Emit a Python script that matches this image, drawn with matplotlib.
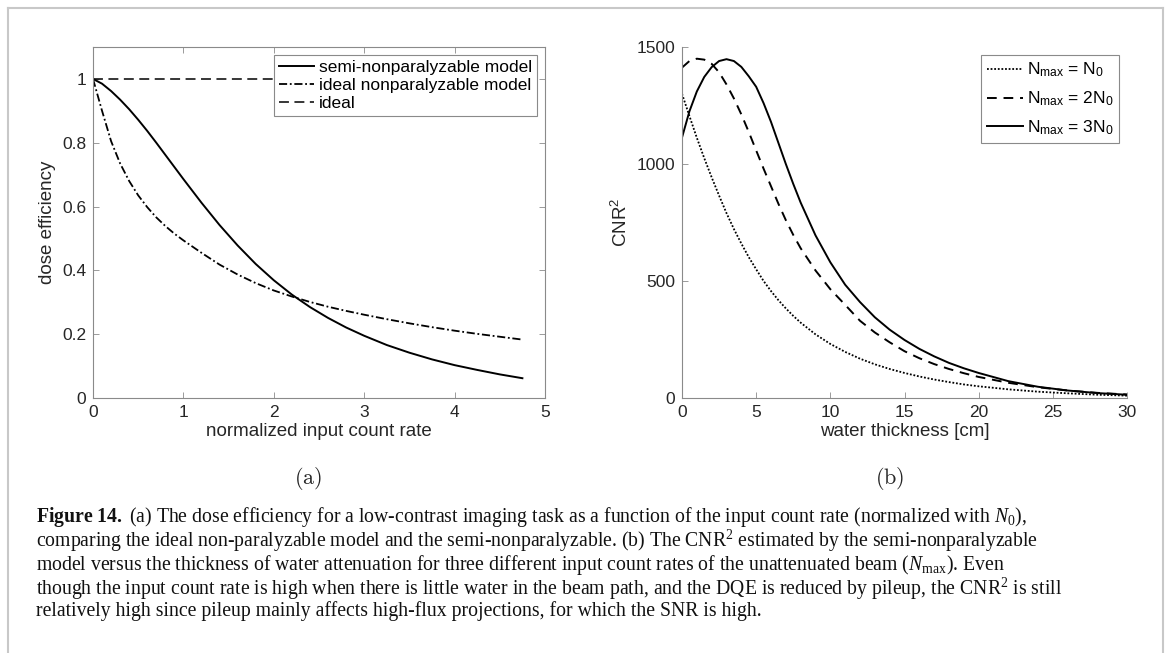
import numpy as np
import matplotlib
matplotlib.use('Agg')
import matplotlib.pyplot as plt
from matplotlib.lines import Line2D

# panel (a): dose efficiency vs normalized input count rate
rate = [0, 0.1, 0.2, 0.3, 0.4, 0.5, 0.6, 0.7, 0.8, 0.9, 1.0, 1.2, 1.4, 1.6,
        1.8, 2.0, 2.2, 2.4, 2.6, 2.8, 3.0, 3.25, 3.5, 3.75, 4.0, 4.25, 4.5, 4.75]
semi_np = [1.000, 0.985, 0.962, 0.935, 0.905, 0.872, 0.837, 0.800, 0.762, 0.724,
           0.686, 0.612, 0.542, 0.478, 0.420, 0.369, 0.324, 0.285, 0.251, 0.221,
           0.195, 0.166, 0.142, 0.121, 0.103, 0.088, 0.074, 0.062]
ideal_np = [1.000, 0.900, 0.805, 0.735, 0.680, 0.635, 0.598, 0.566, 0.539, 0.515,
            0.494, 0.455, 0.418, 0.387, 0.360, 0.337, 0.318, 0.301, 0.286, 0.273,
            0.261, 0.247, 0.234, 0.222, 0.211, 0.201, 0.192, 0.183]
ideal = [1.0] * len(rate)
labels_a = ['semi-nonparalyzable model', 'ideal nonparalyzable model', 'ideal']

# panel (b): CNR^2 vs water thickness
water = [0, 0.5, 1, 1.5, 2, 2.5, 3, 3.5, 4, 4.5, 5, 5.5, 6, 6.5, 7, 7.5, 8,
         9, 10, 11, 12, 13, 14, 15, 16, 17, 18, 19, 20, 22, 24, 26, 28, 30]
cnr_1n0 = [1300, 1205, 1112, 1025, 943, 865, 790, 722, 660, 602, 550, 500, 457,
           418, 383, 351, 322, 272, 231, 197, 168, 144, 124, 107, 92, 79, 68,
           58, 50, 37, 27, 20, 14, 10]
cnr_2n0 = [1412, 1440, 1450, 1446, 1428, 1392, 1340, 1280, 1212, 1137, 1058,
           980, 905, 830, 760, 697, 640, 545, 465, 398, 330, 280, 238, 200, 170,
           145, 124, 106, 90, 65, 46, 32, 22, 15]
cnr_3n0 = [1113, 1225, 1310, 1372, 1414, 1440, 1448, 1440, 1415, 1375, 1330,
           1260, 1180, 1090, 1000, 915, 835, 695, 580, 484, 410, 345, 292, 248,
           210, 178, 150, 127, 107, 72, 48, 32, 21, 14]
labels_b = [r'N$_\mathregular{max}$ = N$_\mathregular{0}$',
            r'N$_\mathregular{max}$ = 2N$_\mathregular{0}$',
            r'N$_\mathregular{max}$ = 3N$_\mathregular{0}$']

caption = [
    r'$\mathbf{Figure\ 14.}$ (a) The dose efficiency for a low-contrast imaging task as a function of the input count rate (normalized with $N_0$),',
    r'comparing the ideal non-paralyzable model and the semi-nonparalyzable. (b) The CNR$^2$ estimated by the semi-nonparalyzable',
    r'model versus the thickness of water attenuation for three different input count rates of the unattenuated beam ($N_{\rm max}$). Even',
    r'though the input count rate is high when there is little water in the beam path, and the DQE is reduced by pileup, the CNR$^2$ is still',
    'relatively high since pileup mainly affects high-flux projections, for which the SNR is high.',
]

plt.rcParams['font.family'] = ['Liberation Sans', 'DejaVu Sans']
plt.rcParams['mathtext.fontset'] = 'custom'
plt.rcParams['mathtext.rm'] = 'Liberation Serif'
plt.rcParams['mathtext.it'] = 'Liberation Serif:italic'
plt.rcParams['mathtext.bf'] = 'Liberation Serif:bold'

W, H = 1166, 653
fig = plt.figure(figsize=(W / 100, H / 100), dpi=100)


def box(x0, x1):
    return [x0 / W, 1 - 398 / H, (x1 - x0) / W, (398 - 47) / H]


axcol = '#8a8a8a'
txtcol = '#262626'


def style(ax, full_box):
    for s in ax.spines.values():
        s.set_color(axcol)
        s.set_linewidth(0.8)
    if not full_box:
        ax.spines['top'].set_visible(False)
        ax.spines['right'].set_visible(False)
    ax.tick_params(direction='in', length=4, width=0.6, color=axcol,
                   labelsize=12.5, labelcolor=txtcol, pad=5,
                   top=full_box, right=full_box)


# (a)
ax1 = fig.add_axes(box(93, 545))
ax1.plot(rate, semi_np, color='black', lw=1.4, label=labels_a[0])
ax1.plot(rate, ideal_np, color='black', lw=1.3, ls=(0, (4.5, 1.5, 1, 1.5)), label=labels_a[1])
ax1.plot(rate, ideal, color='black', lw=1.1, ls=(0, (6.5, 3.6)), label=labels_a[2])
ax1.set_xlim(0, 5)
ax1.set_ylim(0, 1.1)
ax1.set_xticks([0, 1, 2, 3, 4, 5])
ax1.set_yticks([0, 0.2, 0.4, 0.6, 0.8, 1])
ax1.set_yticklabels(['0', '0.2', '0.4', '0.6', '0.8', '1'])
ax1.set_xlabel('normalized input count rate', fontsize=13.5, color=txtcol, labelpad=2)
ax1.set_ylabel('dose efficiency', fontsize=13.5, color=txtcol, labelpad=4)
style(ax1, True)
leg1 = ax1.legend(loc='upper right', fontsize=12.5, handlelength=2.0, handletextpad=0.3,
                  labelspacing=0.15, borderaxespad=0.45, borderpad=0.3,
                  fancybox=False, framealpha=1, edgecolor=axcol)
leg1.get_frame().set_linewidth(0.8)

# (b)
ax2 = fig.add_axes(box(682, 1127))
ax2.plot(water, cnr_1n0, color='black', lw=1.3, ls=(0, (1, 1)), label=labels_b[0])
ax2.plot(water, cnr_2n0, color='black', lw=1.4, ls=(0, (5, 3.5)), label=labels_b[1])
ax2.plot(water, cnr_3n0, color='black', lw=1.4, label=labels_b[2])
ax2.set_xlim(0, 30)
ax2.set_ylim(0, 1500)
ax2.set_xticks([0, 5, 10, 15, 20, 25, 30])
ax2.set_yticks([0, 500, 1000, 1500])
ax2.set_xlabel('water thickness [cm]', fontsize=13.5, color=txtcol, labelpad=2)
ax2.set_ylabel(r'CNR$\mathregular{^2}$', fontsize=13.5, color=txtcol, labelpad=4)
style(ax2, False)
leg2 = ax2.legend(loc='upper right', fontsize=12.5, handlelength=2.1, handletextpad=0.2,
                  labelspacing=0.6, borderaxespad=0.45, borderpad=0.35,
                  fancybox=False, framealpha=1, edgecolor=axcol)
leg2.get_frame().set_linewidth(0.8)

# panel letters
fig.text(308 / W, 1 - 479 / H, r'$\mathrm{(a)}$', math_fontfamily='cm',
         fontsize=16, ha='center', va='center', color=txtcol)
fig.text(890 / W, 1 - 479 / H, r'$\mathrm{(b)}$', math_fontfamily='cm',
         fontsize=16, ha='center', va='center', color=txtcol)

# caption as one multi-line text (baseline = last line)
fig.text(36 / W, 1 - 616 / H, '\n'.join(caption), family='Liberation Serif',
         fontsize=14.2, va='baseline', ha='left', color='#111111', linespacing=0.94)

# light frame around the figure
fcol = '#c8c8c8'
fig.add_artist(Line2D([8 / W, 8 / W], [0, 1 - 8 / H], color=fcol, lw=1.5))
fig.add_artist(Line2D([8 / W, 1163 / W], [1 - 8 / H, 1 - 8 / H], color=fcol, lw=1.5))
fig.add_artist(Line2D([1163 / W, 1163 / W], [0, 1 - 8 / H], color=fcol, lw=1.5))

fig.savefig('out.png', dpi=100)
